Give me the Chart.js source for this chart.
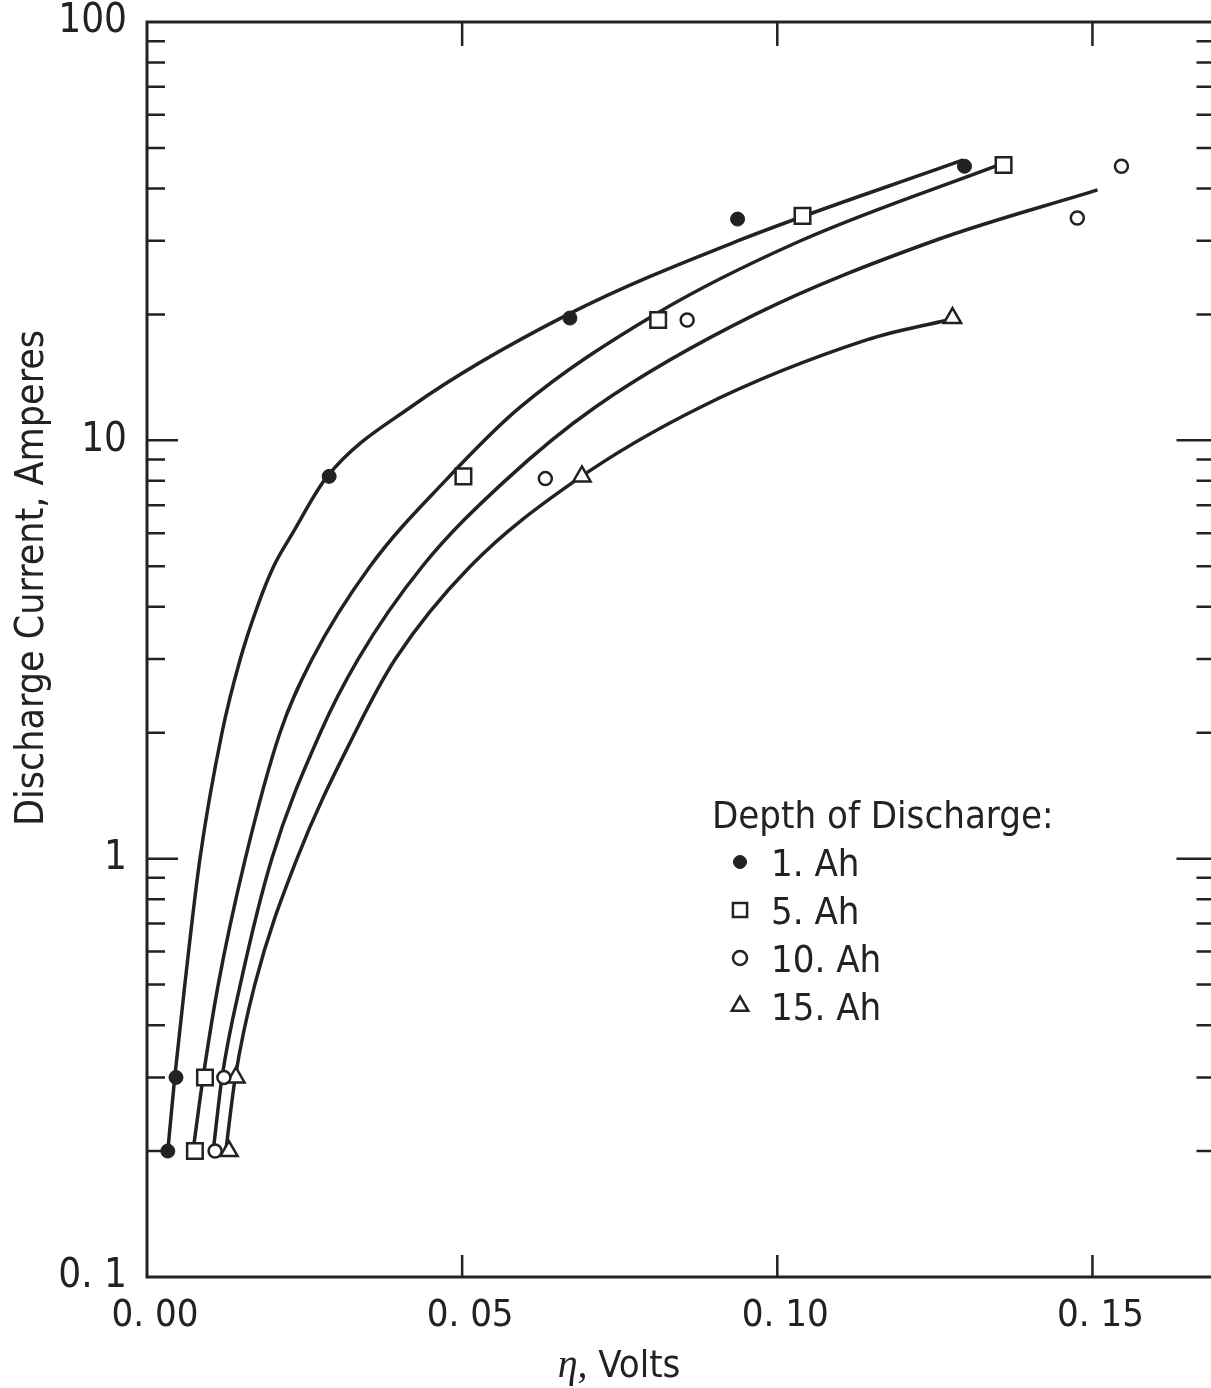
<!DOCTYPE html>
<html>
<head>
<meta charset="utf-8">
<script src="https://cdn.jsdelivr.net/npm/chart.js@4/dist/chart.umd.min.js"></script>
<style>
  html, body { margin: 0; padding: 0; background: #fff; overflow: hidden; }
  #wrap { position: relative; width: 1211px; height: 1388px; overflow: hidden; }
  #chart { position: absolute; left: 0; top: 0; }
</style>
</head>
<body>
<div id="wrap"><canvas id="chart" width="1232" height="1388"></canvas></div>
<script>
// measured points, eta in volts, current in amperes
const etaDot = [0.0033, 0.0046, 0.0289, 0.0671, 0.0937, 0.1297];
const ampDot = [0.2, 0.3, 8.2, 19.6, 33.8, 45.2];
const etaSquare = [0.0076, 0.0092, 0.0502, 0.0811, 0.1040, 0.1359];
const ampSquare = [0.2, 0.3, 8.2, 19.4, 34.4, 45.5];
const etaCircle = [0.0108, 0.0122, 0.0632, 0.0857, 0.1476, 0.1546];
const ampCircle = [0.2, 0.3, 8.1, 19.4, 34.0, 45.2];
const etaTriangle = [0.0130, 0.0141, 0.0690, 0.1278];
const ampTriangle = [0.2, 0.3, 8.2, 19.6];

// hand-drawn fitted curves
const fitEta1 = [0.0033, 0.0044, 0.0060, 0.0084, 0.0119, 0.0148, 0.0175, 0.0201, 0.0231, 0.0286, 0.0418, 0.0668, 0.0938, 0.1295];
const fitAmp1 = [0.2, 0.3, 0.5, 1, 2, 3, 4, 5, 6, 8.2, 12, 20, 30, 46.8];
const fitEta2 = [0.0073, 0.0089, 0.0113, 0.0156, 0.0211, 0.0262, 0.0354, 0.0473, 0.0592, 0.0806, 0.1037, 0.1359];
const fitAmp2 = [0.2, 0.3, 0.5, 1, 2, 3, 5, 8, 12, 20, 30, 46];
const fitEta3 = [0.0105, 0.0119, 0.0148, 0.0198, 0.0275, 0.0335, 0.0437, 0.0568, 0.0711, 0.0965, 0.1249, 0.1508];
const fitAmp3 = [0.2, 0.3, 0.5, 1, 2, 3, 5, 8, 12, 20, 30, 39.7];
const fitEta4 = [0.0125, 0.0140, 0.0171, 0.0238, 0.0330, 0.0394, 0.0513, 0.0679, 0.0878, 0.1143, 0.1270];
const fitAmp4 = [0.2, 0.3, 0.5, 1, 2, 3, 5, 8, 12, 17.4, 19.4];

const seriesNames = ['1. Ah', '5. Ah', '10. Ah', '15. Ah'];
const xTicks = [0, 0.05, 0.10, 0.15];
const xTickLabels = ['0. 00', '0. 05', '0. 10', '0. 15'];
const yTicks = [0.1, 1, 10, 100];
const yTickLabels = ['0. 1', '1', '10', '100'];

const INK = '#222';
const FONT = "'Liberation Sans Narrow', 'DejaVu Sans Condensed', 'Liberation Sans', sans-serif";

function pts(xs, ys) {
  return xs.map((x, i) => ({ x: x, y: ys[i] }));
}

function curve(xs, ys) {
  return {
    data: pts(xs, ys), showLine: true, pointRadius: 0,
    borderColor: INK, borderWidth: 3.5, cubicInterpolationMode: 'monotone',
    order: 2
  };
}

const markerStyles = [
  { pointStyle: 'circle', pointRadius: 7, pointBackgroundColor: INK, pointBorderWidth: 1 },
  { pointStyle: 'rect', pointRadius: 11, pointBackgroundColor: '#fff', pointBorderWidth: 2.5 },
  { pointStyle: 'circle', pointRadius: 6.5, pointBackgroundColor: '#fff', pointBorderWidth: 2.5 },
  { pointStyle: 'triangle', pointRadius: 10, pointBackgroundColor: '#fff', pointBorderWidth: 2.5 }
];
const legendRadius = [6.5, 10, 7, 9.5];

function markers(xs, ys, k) {
  return Object.assign({
    label: seriesNames[k], data: pts(xs, ys), showLine: false,
    pointBorderColor: INK, order: 1
  }, markerStyles[k]);
}

function noPadding(s) {
  s.paddingTop = 0; s.paddingBottom = 0; s.paddingLeft = 0; s.paddingRight = 0;
}

// frame, inside ticks, legend and axis titles
const decorPlugin = {
  id: 'decor',
  afterDraw(chart) {
    const ctx = chart.ctx;
    const a = chart.chartArea;
    const xs = chart.scales.x, ys = chart.scales.y;
    ctx.save();
    ctx.strokeStyle = INK;
    ctx.lineWidth = 3;
    ctx.strokeRect(a.left, a.top, a.right - a.left, a.bottom - a.top);

    ctx.lineWidth = 2.5;
    ctx.beginPath();
    xTicks.forEach(v => {
      if (v <= xs.min) return;
      const px = xs.getPixelForValue(v);
      ctx.moveTo(px, a.bottom); ctx.lineTo(px, a.bottom - 22);
      ctx.moveTo(px, a.top); ctx.lineTo(px, a.top + 24);
    });
    for (let d = 0.1; d < 100; d *= 10) {
      for (let m = 1; m <= 9; m++) {
        const v = m * d;
        if (v <= ys.min * 1.0001 || v >= ys.max * 0.9999) continue;
        const py = ys.getPixelForValue(v);
        const major = m === 1;
        ctx.moveTo(a.left, py); ctx.lineTo(a.left + (major ? 31 : 18), py);
        ctx.moveTo(a.right, py); ctx.lineTo(a.right - (major ? 42 : 22), py);
      }
    }
    ctx.stroke();

    ctx.fillStyle = INK;

    // y axis title, sits a bit above the middle like the original
    ctx.save();
    ctx.translate(33, 578);
    ctx.rotate(-Math.PI / 2);
    ctx.font = '39px ' + FONT;
    ctx.textAlign = 'center';
    ctx.textBaseline = 'middle';
    ctx.fillText('Discharge Current, Amperes', 0, 0);
    ctx.restore();

    // x axis title with italic eta
    ctx.textBaseline = 'alphabetic';
    ctx.textAlign = 'left';
    const etaFont = 'italic 40px "Liberation Serif", "DejaVu Serif", serif';
    ctx.font = etaFont;
    const etaW = ctx.measureText('\u03b7,').width;
    ctx.font = '38px ' + FONT;
    const voltsW = ctx.measureText(' Volts').width;
    const tx = 619 - (etaW + voltsW) / 2;
    ctx.font = etaFont;
    ctx.fillText('\u03b7,', tx, 1377);
    ctx.font = '38px ' + FONT;
    ctx.fillText(' Volts', tx + etaW, 1377);

    // legend
    const lx = a.left + 565, ly = a.top + 806;
    ctx.fillText('Depth of Discharge:', lx, ly);
    seriesNames.forEach((name, k) => {
      const my = ly + 34 + k * 48;
      const s = markerStyles[k];
      ctx.fillStyle = s.pointBackgroundColor;
      ctx.strokeStyle = INK;
      ctx.lineWidth = s.pointBorderWidth;
      Chart.helpers.drawPoint(ctx, {
        pointStyle: s.pointStyle, radius: legendRadius[k], borderWidth: s.pointBorderWidth
      }, lx + 28, my);
      ctx.fillStyle = INK;
      ctx.fillText(name, lx + 59, my + 14);
    });
    ctx.restore();
  }
};

new Chart(document.getElementById('chart'), {
  type: 'scatter',
  data: {
    datasets: [
      curve(fitEta1, fitAmp1), curve(fitEta2, fitAmp2),
      curve(fitEta3, fitAmp3), curve(fitEta4, fitAmp4),
      markers(etaDot, ampDot, 0), markers(etaSquare, ampSquare, 1),
      markers(etaCircle, ampCircle, 2), markers(etaTriangle, ampTriangle, 3)
    ]
  },
  options: {
    responsive: false,
    animation: false,
    // canvas is a little wider than the page: the right frame falls just off the picture
    layout: { padding: { top: 22, right: 0, left: 0, bottom: 0 } },
    plugins: { legend: { display: false }, tooltip: { enabled: false } },
    scales: {
      x: {
        type: 'linear', min: 0, max: 0.17,
        grid: { display: false, drawTicks: false },
        border: { display: false },
        afterBuildTicks: s => { s.ticks = xTicks.map(v => ({ value: v })); },
        afterFit: s => { s.height = 111; noPadding(s); },
        ticks: {
          color: INK, padding: 16, maxRotation: 0, autoSkip: false, labelOffset: 8,
          font: { family: FONT, size: 38 },
          callback: (v, i) => xTickLabels[i]
        }
      },
      y: {
        type: 'logarithmic', min: 0.1, max: 100,
        grid: { display: false, drawTicks: false },
        border: { display: false },
        afterBuildTicks: s => { s.ticks = yTicks.map(v => ({ value: v })); },
        afterFit: s => { s.width = 147; noPadding(s); },
        ticks: {
          color: INK, padding: 20, autoSkip: false,
          font: { family: FONT, size: 40 },
          callback: (v, i) => yTickLabels[i]
        }
      }
    }
  },
  plugins: [decorPlugin]
});
</script>
</body>
</html>
